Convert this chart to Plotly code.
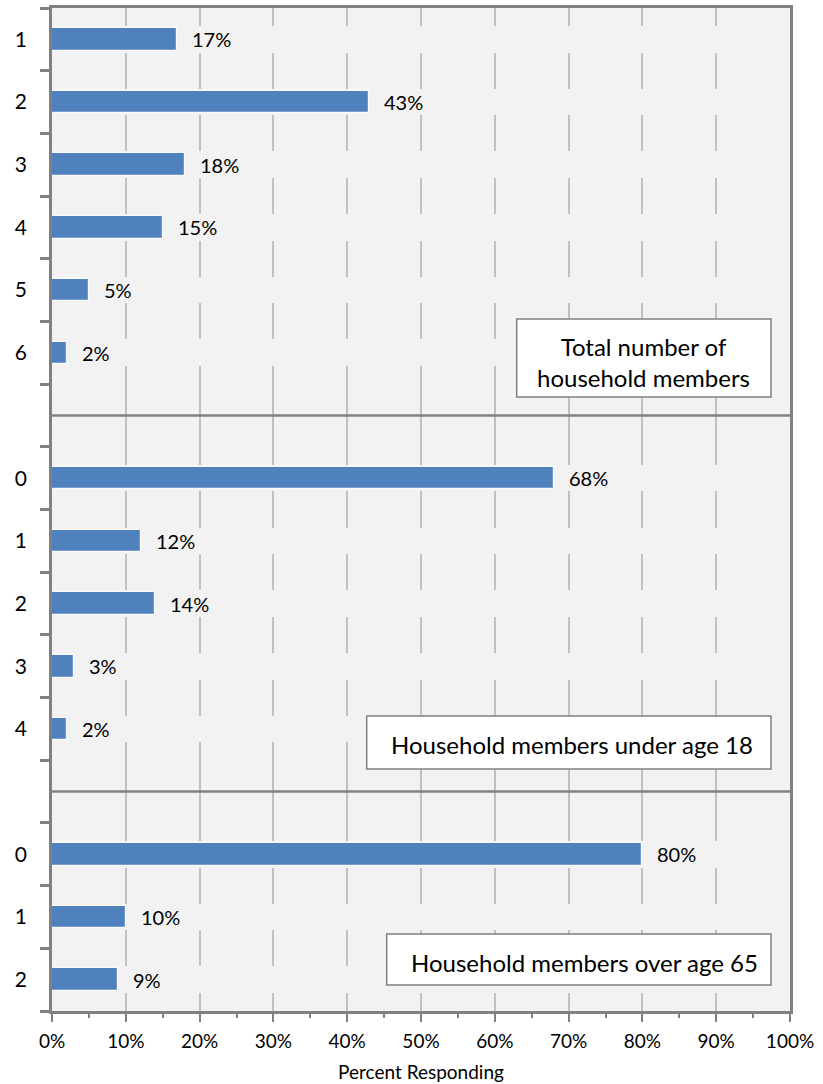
import plotly.graph_objects as go

# ---- data ----
total_labels = ["1", "2", "3", "4", "5", "6"]
total_values = [0.17, 0.43, 0.18, 0.15, 0.05, 0.02]
under18_labels = ["0", "1", "2", "3", "4"]
under18_values = [0.68, 0.12, 0.14, 0.03, 0.02]
over65_labels = ["0", "1", "2"]
over65_values = [0.80, 0.10, 0.09]
section_titles = ["Total number of<br>household members",
                  "Household members under age 18",
                  "Household members over age 65"]
x_ticks = [0, 0.1, 0.2, 0.3, 0.4, 0.5, 0.6, 0.7, 0.8, 0.9, 1.0]

sections = [(total_labels, total_values),
            (under18_labels, under18_values),
            (over65_labels, over65_values)]

# build category positions (one empty slot between sections)
positions, labels, values, separators = [], [], [], []
pos = 0
for i, (labs, vals) in enumerate(sections):
    for l, v in zip(labs, vals):
        positions.append(pos)
        labels.append(l)
        values.append(v)
        pos += 1
    if i < len(sections) - 1:
        separators.append(pos)
        pos += 1
n_slots = pos

FONT = "Lato"
BLUE = "#4F81BD"
PLOT_BG = "#f2f2f2"
AXIS = "#808080"
GRID = "#c0c0c0"

W, H = 823, 1084
ML, MR, MT, MB = 52, 33, 8, 73
PW, PH = W - ML - MR, H - MT - MB


def px(x):
    return (x - ML) / PW


def py(y):
    return 1 - (y - MT) / PH


fig = go.Figure()
# background-coloured bars that interrupt the grid lines (as in the original)
fig.add_trace(go.Bar(x=[1.0] * len(positions), y=positions, orientation="h",
                     width=0.425, marker=dict(color=PLOT_BG, line=dict(width=0)),
                     hoverinfo="skip", showlegend=False))
fig.add_trace(go.Bar(x=values, y=positions, orientation="h", width=0.36,
                     marker=dict(color=BLUE, line=dict(color="#fafafa", width=1.2)),
                     showlegend=False))

annotations = []
for v, p in zip(values, positions):
    annotations.append(dict(x=v, y=p, xref="x", yref="y", text=f"{round(v*100)}%",
                            showarrow=False, xanchor="left", yanchor="middle",
                            xshift=13, font=dict(family=FONT, size=20, color="#000")))

shapes = []
for s in separators:
    shapes.append(dict(type="line", xref="x domain", yref="y", x0=0, x1=1, y0=s, y1=s,
                       line=dict(color=AXIS, width=2.5), layer="above"))

# text boxes (pixel geometry of the original)
boxes = [
    (516.7, 319, 771, 397, 643.8, 362),
    (366.7, 716, 771, 769, 572, 744),
    (386.7, 934, 771, 985, 584, 962),
]
for (x0, y0, x1, y1, tx, ty), title in zip(boxes, section_titles):
    shapes.append(dict(type="rect", xref="paper", yref="paper",
                       x0=px(x0), x1=px(x1), y0=py(y1), y1=py(y0),
                       fillcolor="white", line=dict(color=AXIS, width=1.5), layer="above"))
    annotations.append(dict(x=px(tx), y=py(ty), xref="paper", yref="paper", text=title,
                            showarrow=False, xanchor="center", yanchor="middle",
                            font=dict(family=FONT, size=24, color="#000")))

fig.update_layout(
    width=W, height=H,
    margin=dict(l=ML, r=MR, t=MT, b=MB, autoexpand=False),
    paper_bgcolor="white", plot_bgcolor=PLOT_BG,
    barmode="overlay", bargap=0,
    showlegend=False,
    shapes=shapes, annotations=annotations,
    font=dict(family=FONT, color="#000"),
)
fig.update_xaxes(
    range=[0, 1], tickvals=x_ticks, tickformat=".0%",
    ticks="outside", ticklen=8, tickwidth=2, tickcolor=AXIS,
    showgrid=True, gridcolor=GRID, gridwidth=2, zeroline=False,
    showline=True, linecolor=AXIS, linewidth=2.5, mirror=True,
    tickfont=dict(family=FONT, size=19, color="#000"),
    ticklabelstandoff=3,
    minor=dict(dtick=0.05, tick0=0, ticks="outside", ticklen=4, tickwidth=2,
               tickcolor=AXIS, showgrid=False),
    title=dict(text="Percent Responding", font=dict(family=FONT, size=19, color="#000"),
               standoff=16),
    automargin=False,
)
fig.update_yaxes(
    range=[n_slots - 0.5, -0.5], tickmode="array", tickvals=positions, ticktext=labels,
    ticks="", showgrid=False, zeroline=False,
    showline=True, linecolor=AXIS, linewidth=2.5, mirror=True,
    tickfont=dict(family=FONT, size=21, color="#000"),
    ticklabelstandoff=18,
    minor=dict(tick0=-0.5, dtick=1, ticks="outside", ticklen=9, tickwidth=2.5,
               tickcolor=AXIS, showgrid=False),
    automargin=False,
)

fig.write_html("out.html")
